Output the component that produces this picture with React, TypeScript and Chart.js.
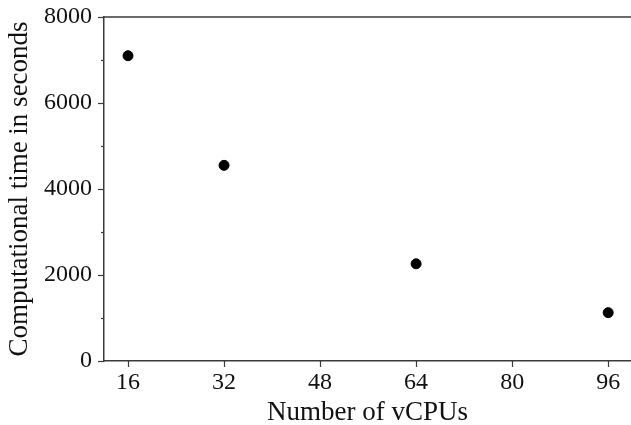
import React, { useEffect, useRef } from "react";
import { Chart, registerables } from "chart.js";

Chart.register(...registerables);

const vcpus = [16, 32, 64, 96];
const timesSec = [7100, 4550, 2260, 1125];
const xTickValues = [16, 32, 48, 64, 80, 96];
const yMajorTicks = [0, 2000, 4000, 6000, 8000];
const xTitle = "Number of vCPUs";
const yTitle = "Computational time in seconds";

const FONT = "'Liberation Serif', serif";
const AXIS = "#3a3a3a";

const axesPlugin = {
  id: "mplAxes",
  afterDraw(chart: any) {
    const { ctx, chartArea, scales } = chart;
    ctx.save();
    ctx.strokeStyle = AXIS;
    ctx.lineWidth = 1.5;
    ctx.beginPath();
    ctx.moveTo(chartArea.left, chartArea.top);
    ctx.lineTo(chartArea.right, chartArea.top);
    ctx.stroke();
    ctx.lineWidth = 1.2;
    const y = scales.y;
    for (let v = 0; v <= 8000; v += 1000) {
      const py = Math.round(y.getPixelForValue(v)) + 0.5;
      const len = yMajorTicks.includes(v) ? 6 : 3;
      ctx.beginPath();
      ctx.moveTo(chartArea.left - len, py);
      ctx.lineTo(chartArea.left, py);
      ctx.stroke();
    }
    const x = scales.x;
    for (const v of xTickValues) {
      const px = Math.round(x.getPixelForValue(v)) + 0.5;
      ctx.beginPath();
      ctx.moveTo(px, chartArea.bottom);
      ctx.lineTo(px, chartArea.bottom + 6);
      ctx.stroke();
    }
    ctx.restore();
  },
};

export default function App() {
  const ref = useRef<HTMLCanvasElement>(null);
  useEffect(() => {
    document.body.style.margin = "0";
    const chart = new Chart(ref.current!, {
      type: "scatter",
      data: {
        datasets: [
          {
            data: vcpus.map((v, i) => ({ x: v, y: timesSec[i] })),
            backgroundColor: "#000",
            borderColor: "#000",
            borderWidth: 1,
            pointRadius: 5,
            pointHoverRadius: 5,
          },
        ],
      },
      options: {
        responsive: false,
        animation: false,
        layout: { autoPadding: false, padding: { top: 17, right: 0, bottom: 0, left: 0 } },
        plugins: { legend: { display: false }, tooltip: { enabled: false } },
        scales: {
          x: {
            type: "linear",
            min: 12,
            max: 99.8,
            afterBuildTicks: (s: any) => {
              s.ticks = xTickValues.map((v) => ({ value: v }));
            },
            afterFit: (s: any) => {
              s.height = 64;
              s.paddingLeft = 0;
              s.paddingRight = 0;
            },
            grid: { display: false, drawTicks: false, tickLength: 0 },
            border: { display: true, color: AXIS, width: 1.5 },
            ticks: {
              color: "#111",
              font: { family: FONT, size: 24 },
              padding: 7,
              maxRotation: 0,
              autoSkip: false,
              callback: (v: any) => String(v),
            },
            title: {
              display: true,
              text: xTitle,
              color: "#111",
              font: { family: FONT, size: 27, lineHeight: 0.9 },
              padding: { top: 0, bottom: 0 },
            },
          },
          y: {
            type: "linear",
            min: 0,
            max: 8000,
            afterBuildTicks: (s: any) => {
              s.ticks = yMajorTicks.map((v) => ({ value: v }));
            },
            afterFit: (s: any) => {
              s.width = 104;
              s.paddingTop = 0;
              s.paddingBottom = 0;
            },
            grid: { display: false, drawTicks: false, tickLength: 0 },
            border: { display: true, color: AXIS, width: 1.5 },
            ticks: {
              color: "#111",
              font: { family: FONT, size: 24 },
              padding: 12,
              callback: (v: any) => String(v),
            },
            title: {
              display: true,
              text: yTitle,
              color: "#111",
              font: { family: FONT, size: 27, lineHeight: 1 },
              padding: { top: 6, bottom: 0 },
            },
          },
        },
      },
      plugins: [axesPlugin],
    });
    return () => chart.destroy();
  }, []);
  return <canvas ref={ref} width={631} height={425} style={{ display: "block" }} />;
}
